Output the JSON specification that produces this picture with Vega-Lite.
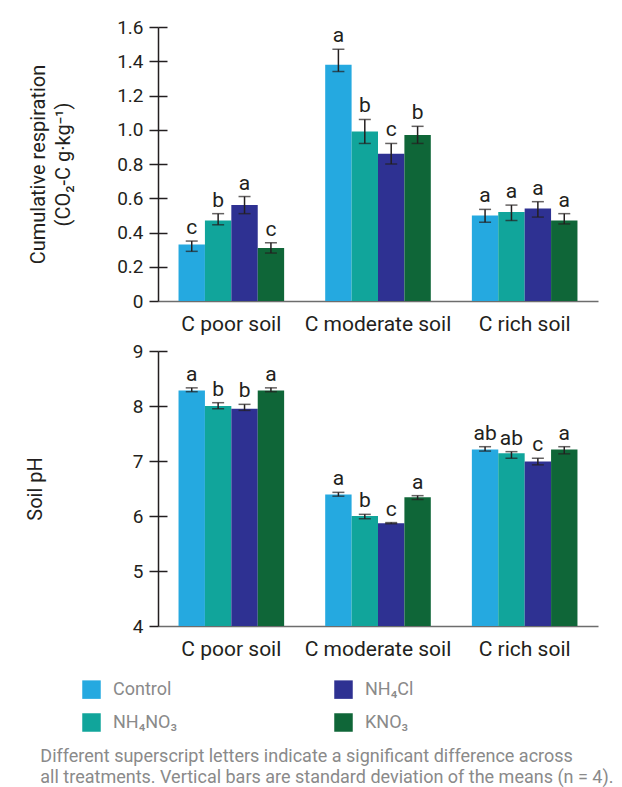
{
  "$schema": "https://vega.github.io/schema/vega-lite/v6.json",
  "background": "white",
  "padding": {"left": 25, "top": 18, "right": 5, "bottom": 5},
  "config": {
    "font": "Roboto",
    "view": {"stroke": null},
    "axis": {"labelFont": "Roboto", "titleFont": "Roboto", "labelColor": "#231f20", "titleColor": "#231f20", "titleFontWeight": "normal"},
    "concat": {"spacing": 8}
  },
  "title": {
    "text": ["Different superscript letters indicate a significant difference across", "all treatments. Vertical bars are standard deviation of the means (n = 4)."],
    "orient": "bottom", "anchor": "start", "frame": "bounds", "fontSize": 18, "fontWeight": "normal", "color": "#8a8a8a", "lineHeight": 21, "offset": 16, "dx": 15
  },
  "vconcat": [
    {
      "width": 440, "height": 274,
      "data": {"values": [
        {"soil": "C poor soil", "trt": "Control", "mean": 0.33, "lo": 0.29, "hi": 0.35, "letter": "c"},
        {"soil": "C poor soil", "trt": "NH₄NO₃", "mean": 0.47, "lo": 0.445, "hi": 0.51, "letter": "b"},
        {"soil": "C poor soil", "trt": "NH₄Cl", "mean": 0.56, "lo": 0.51, "hi": 0.61, "letter": "a"},
        {"soil": "C poor soil", "trt": "KNO₃", "mean": 0.31, "lo": 0.28, "hi": 0.34, "letter": "c"},
        {"soil": "C moderate soil", "trt": "Control", "mean": 1.38, "lo": 1.34, "hi": 1.47, "letter": "a"},
        {"soil": "C moderate soil", "trt": "NH₄NO₃", "mean": 0.99, "lo": 0.92, "hi": 1.06, "letter": "b"},
        {"soil": "C moderate soil", "trt": "NH₄Cl", "mean": 0.86, "lo": 0.80, "hi": 0.92, "letter": "c"},
        {"soil": "C moderate soil", "trt": "KNO₃", "mean": 0.97, "lo": 0.92, "hi": 1.02, "letter": "b"},
        {"soil": "C rich soil", "trt": "Control", "mean": 0.50, "lo": 0.46, "hi": 0.535, "letter": "a"},
        {"soil": "C rich soil", "trt": "NH₄NO₃", "mean": 0.52, "lo": 0.47, "hi": 0.56, "letter": "a"},
        {"soil": "C rich soil", "trt": "NH₄Cl", "mean": 0.54, "lo": 0.49, "hi": 0.58, "letter": "a"},
        {"soil": "C rich soil", "trt": "KNO₃", "mean": 0.47, "lo": 0.45, "hi": 0.51, "letter": "a"}
      ]},
      "encoding": {
        "x": {"field": "soil", "type": "nominal", "sort": ["C poor soil", "C moderate soil", "C rich soil"],
              "scale": {"paddingInner": 0.28, "paddingOuter": 0.14},
              "axis": {"title": null, "labelAngle": 0, "ticks": false, "domainColor": "#6d6d6d", "domainWidth": 1.5, "labelFontSize": 21, "labelPadding": 12}},
        "xOffset": {"field": "trt", "type": "nominal", "sort": ["Control", "NH₄NO₃", "NH₄Cl", "KNO₃"]}
      },
      "resolve": {"axis": {"y": "independent"}},
      "layer": [
        {
          "mark": {"type": "bar"},
          "encoding": {
            "y": {"field": "mean", "type": "quantitative", "scale": {"domain": [0, 1.6]},
                  "axis": {"title": ["Cumulative respiration", "(CO₂-C g·kg⁻¹)"], "titleFontSize": 20, "titleLineHeight": 25, "titlePadding": 43,
                           "values": [0, 0.2, 0.4, 0.6, 0.8, 1.0, 1.2, 1.4, 1.6], "labelOverlap": false,
                           "labelExpr": "datum.value == 0 ? '0' : format(datum.value, '.1f')",
                           "labelFontSize": 19, "labelPadding": 6, "tickSize": 9, "tickColor": "#231f20", "domainColor": "#231f20", "domainWidth": 1.5, "tickWidth": 1.5,
                           "grid": false}},
            "color": {"field": "trt", "type": "nominal",
                      "scale": {"domain": ["Control", "NH₄Cl", "NH₄NO₃", "KNO₃"], "range": ["#25a9e0", "#2e3192", "#11a59b", "#0f6638"]},
                      "legend": {"title": null, "orient": "none", "legendX": -76, "legendY": 653, "columns": 2, "direction": "horizontal",
                                 "symbolType": "square", "symbolSize": 342, "symbolStrokeWidth": 0, "labelFontSize": 18, "labelColor": "#8a8a8a", "labelOffset": 12,
                                 "columnPadding": 156, "rowPadding": 14}}
          }
        },
        {
          "mark": {"type": "rule", "color": "#231f20", "strokeWidth": 1.5},
          "encoding": {"y": {"field": "lo", "type": "quantitative",
                             "axis": {"orient": "left", "values": [0.2, 0.4, 0.6, 0.8, 1.0, 1.2, 1.4, 1.6], "tickSize": -9, "tickWidth": 1.5, "tickColor": "#231f20", "labels": false, "domain": false, "title": null, "grid": false}},
                       "y2": {"field": "hi"}}
        },
        {
          "mark": {"type": "tick", "color": "#231f20", "size": 12, "thickness": 1.5},
          "encoding": {"y": {"field": "lo", "type": "quantitative", "axis": null}}
        },
        {
          "mark": {"type": "tick", "color": "#231f20", "size": 12, "thickness": 1.5},
          "encoding": {"y": {"field": "hi", "type": "quantitative", "axis": null}}
        },
        {
          "mark": {"type": "text", "fontSize": 21, "color": "#231f20", "baseline": "alphabetic", "dy": -7},
          "encoding": {"y": {"field": "hi", "type": "quantitative", "axis": null}, "text": {"field": "letter"}}
        }
      ]
    },
    {
      "width": 440, "height": 275,
      "data": {"values": [
        {"soil": "C poor soil", "trt": "Control", "mean": 8.28, "lo": 8.26, "hi": 8.33, "letter": "a"},
        {"soil": "C poor soil", "trt": "NH₄NO₃", "mean": 8.00, "lo": 7.95, "hi": 8.06, "letter": "b"},
        {"soil": "C poor soil", "trt": "NH₄Cl", "mean": 7.95, "lo": 7.92, "hi": 8.03, "letter": "b"},
        {"soil": "C poor soil", "trt": "KNO₃", "mean": 8.28, "lo": 8.26, "hi": 8.33, "letter": "a"},
        {"soil": "C moderate soil", "trt": "Control", "mean": 6.39, "lo": 6.36, "hi": 6.43, "letter": "a"},
        {"soil": "C moderate soil", "trt": "NH₄NO₃", "mean": 6.00, "lo": 5.95, "hi": 6.03, "letter": "b"},
        {"soil": "C moderate soil", "trt": "NH₄Cl", "mean": 5.87, "lo": 5.86, "hi": 5.88, "letter": "c"},
        {"soil": "C moderate soil", "trt": "KNO₃", "mean": 6.34, "lo": 6.30, "hi": 6.37, "letter": "a"},
        {"soil": "C rich soil", "trt": "Control", "mean": 7.21, "lo": 7.18, "hi": 7.26, "letter": "ab"},
        {"soil": "C rich soil", "trt": "NH₄NO₃", "mean": 7.14, "lo": 7.05, "hi": 7.17, "letter": "ab"},
        {"soil": "C rich soil", "trt": "NH₄Cl", "mean": 6.99, "lo": 6.93, "hi": 7.05, "letter": "c"},
        {"soil": "C rich soil", "trt": "KNO₃", "mean": 7.21, "lo": 7.13, "hi": 7.26, "letter": "a"}
      ]},
      "encoding": {
        "x": {"field": "soil", "type": "nominal", "sort": ["C poor soil", "C moderate soil", "C rich soil"],
              "scale": {"paddingInner": 0.28, "paddingOuter": 0.14},
              "axis": {"title": null, "labelAngle": 0, "ticks": false, "domainColor": "#6d6d6d", "domainWidth": 1.5, "labelFontSize": 21, "labelPadding": 12}},
        "xOffset": {"field": "trt", "type": "nominal", "sort": ["Control", "NH₄NO₃", "NH₄Cl", "KNO₃"]}
      },
      "resolve": {"axis": {"y": "independent"}},
      "layer": [
        {
          "mark": {"type": "bar"},
          "encoding": {
            "y": {"field": "mean", "type": "quantitative", "scale": {"domain": [4, 9], "zero": false},
                  "axis": {"title": "Soil pH", "titleFontSize": 20, "titlePadding": 87,
                           "values": [4, 5, 6, 7, 8, 9], "labelOverlap": false,
                           "labelFontSize": 19, "labelPadding": 6, "tickSize": 9, "tickColor": "#231f20", "domainColor": "#231f20", "domainWidth": 1.5, "tickWidth": 1.5,
                           "grid": false}},
            "y2": {"datum": 4},
            "color": {"field": "trt", "type": "nominal"}
          }
        },
        {
          "mark": {"type": "rule", "color": "#231f20", "strokeWidth": 1.5},
          "encoding": {"y": {"field": "lo", "type": "quantitative",
                             "axis": {"orient": "left", "values": [5, 6, 7, 8, 9], "tickSize": -9, "tickWidth": 1.5, "tickColor": "#231f20", "labels": false, "domain": false, "title": null, "grid": false}},
                       "y2": {"field": "hi"}}
        },
        {
          "mark": {"type": "tick", "color": "#231f20", "size": 12, "thickness": 1.5},
          "encoding": {"y": {"field": "lo", "type": "quantitative", "axis": null}}
        },
        {
          "mark": {"type": "tick", "color": "#231f20", "size": 12, "thickness": 1.5},
          "encoding": {"y": {"field": "hi", "type": "quantitative", "axis": null}}
        },
        {
          "mark": {"type": "text", "fontSize": 21, "color": "#231f20", "baseline": "alphabetic", "dy": -7},
          "encoding": {"y": {"field": "hi", "type": "quantitative", "axis": null}, "text": {"field": "letter"}}
        }
      ]
    }
  ]
}
